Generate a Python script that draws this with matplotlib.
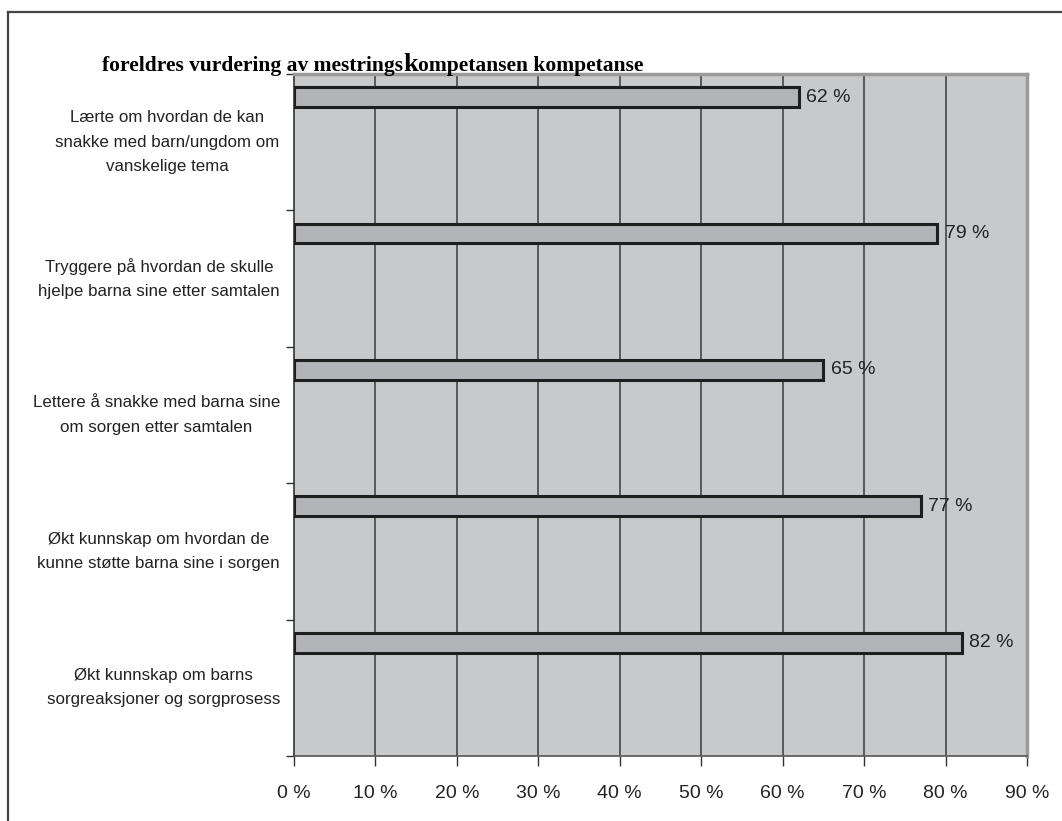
import matplotlib.pyplot as plt
from matplotlib.lines import Line2D

# Data
categories = [
    "Lærte om hvordan de kan\nsnakke med barn/ungdom om\nvanskelige tema",
    "Tryggere på hvordan de skulle\nhjelpe barna sine etter samtalen",
    "Lettere å snakke med barna sine\nom sorgen etter samtalen",
    "Økt kunnskap om hvordan de\nkunne støtte barna sine i sorgen",
    "Økt kunnskap om barns\nsorgreaksjoner og sorgprosess",
]
values = [62, 79, 65, 77, 82]
xticks = [0, 10, 20, 30, 40, 50, 60, 70, 80, 90]

plt.rcParams["font.family"] = ["Liberation Sans", "DejaVu Sans"]

fig = plt.figure(figsize=(10.62, 8.21), dpi=100)
ax = fig.add_axes([0.2768, 0.0792, 0.6902, 0.8307])

ax.set_facecolor("#c8c9cb")
ax.set_xlim(0, 90)
ax.set_ylim(len(categories), 0)

# gridlines
for x in xticks[1:-1]:
    ax.axvline(x, color="#3a3a3a", lw=1.1, zorder=1)

# bars sit near top of each band
pos = [i + 0.17 for i in range(len(categories))]
ax.barh(pos, values, height=0.145, color="#b3b4b8", edgecolor="#1e1e1e",
        linewidth=2.2, zorder=3)

for p, v in zip(pos, values):
    ax.text(v + 0.9, p, f"{v} %", va="center", ha="left", fontsize=14,
            color="#222222", zorder=4)

# category labels centered in band, pushed left if too wide
n = len(categories)
fig.canvas.draw()
renderer = fig.canvas.get_renderer()
right_limit = 280  # pixel
for i, c in enumerate(categories):
    t = fig.text(167 / 1062, 0, c, ha="center", va="center", fontsize=12.2,
                 linespacing=1.78, color="#222222")
    t.set_transform(fig.transFigure)
    yc = 0.0792 + 0.8307 * (1 - (i + 0.5) / n)
    t.set_y(yc)
    bb = t.get_window_extent(renderer)
    if bb.x1 > right_limit:
        t.set_x((167 - (bb.x1 - right_limit)) / 1062)

ax.set_yticks(range(n + 1))
ax.set_yticklabels([])
ax.set_xticks(xticks)
ax.set_xticklabels([f"{x} %" for x in xticks], fontsize=14, color="#222222")
ax.tick_params(axis="x", length=7, width=1, color="#333333", pad=14)
ax.tick_params(axis="y", length=6, width=1, color="#333333")

for s in ["top", "right"]:
    ax.spines[s].set_color("#9a9a9a")
    ax.spines[s].set_linewidth(2.5)
ax.spines["left"].set_color("#333333")
ax.spines["bottom"].set_color("#555555")
ax.spines["left"].set_linewidth(1.2)
ax.spines["bottom"].set_linewidth(1.2)

# title with a larger k
serif = ["Liberation Serif", "DejaVu Serif"]
t1 = fig.text(102 / 1062, 1 - 71 / 821, "foreldres vurdering av mestrings",
              fontsize=15.5, fontweight="bold", family=serif, va="baseline")
t2 = ax.annotate("k", xy=(1, 0), xycoords=t1, va="bottom", ha="left",
                 fontsize=19, fontweight="bold", family=serif,
                 annotation_clip=False)
t3 = ax.annotate("ompetansen kompetanse", xy=(1, 0), xycoords=t2, va="bottom",
                 ha="left", fontsize=15.5, fontweight="bold", family=serif,
                 annotation_clip=False)

# outer frame lines
fig.add_artist(Line2D([8 / 1062, 8 / 1062], [0, 1 - 12 / 821],
                      transform=fig.transFigure, color="#444444", lw=1.6))
fig.add_artist(Line2D([8 / 1062, 1], [1 - 12 / 821, 1 - 12 / 821],
                      transform=fig.transFigure, color="#444444", lw=1.6))

fig.savefig("out.png", dpi=100)
